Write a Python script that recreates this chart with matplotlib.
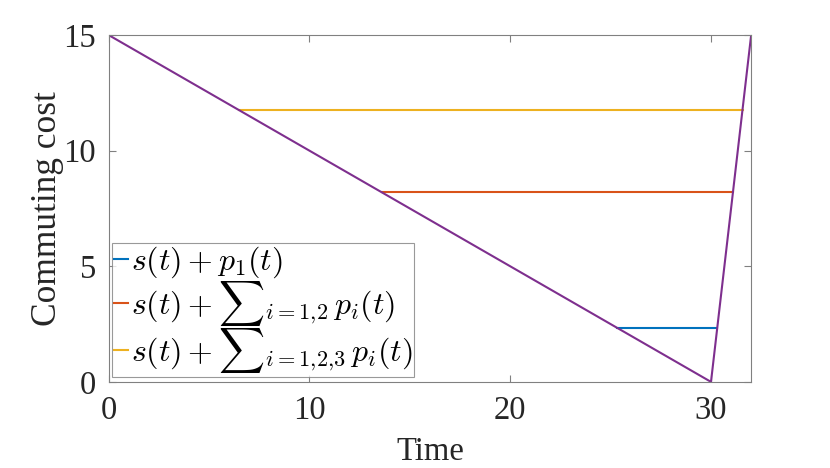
import matplotlib
matplotlib.use("Agg")
import matplotlib.pyplot as plt

# s(t): free-flow commuting cost (piecewise linear)
s_t = [0, 30, 32]
s_cost = [15, 0, 15]

# horizontal cost levels of the three series and their time spans
labels = [r"$s(t)+p_1(t)$",
          r"$s(t)+{\sum}_{i=1{,}2}\,p_i(t)$",
          r"$s(t)+{\sum}_{i=1{,}2{,}3}\,p_i(t)$"]
levels = [2.33, 8.2, 11.75]
t_start = [25.33, 13.6, 6.5]
t_end = [30.31, 31.09, 31.57]
colors = ["#0072BD", "#D95319", "#EDB120"]
s_color = "#7E2F8E"

xticks = [0, 10, 20, 30]
yticks = [0, 5, 10, 15]

plt.rcParams['mathtext.fontset'] = 'cm'
plt.rcParams['font.family'] = ['Liberation Serif', 'DejaVu Serif']

fig = plt.figure(figsize=(8.3, 4.68), dpi=100)
ax = fig.add_axes([0.131, 0.184, 0.774, 0.741])

for lab, lv, a, b, c in zip(labels, levels, t_start, t_end, colors):
    ax.plot([a, b], [lv, lv], color=c, lw=1.5, label=lab)
ax.plot(s_t, s_cost, color=s_color, lw=1.5)

ax.set_xlim(0, 32)
ax.set_ylim(0, 15)
ax.set_xticks(xticks)
ax.set_yticks(yticks)
ax.tick_params(direction='in', top=True, right=True, length=5, width=0.8,
               color='#808080', labelsize=23.5, labelcolor='#262626')
ax.tick_params(axis='x', pad=10)
ax.tick_params(axis='y', pad=9)
for sp in ax.spines.values():
    sp.set_color('#808080')
    sp.set_linewidth(0.8)
ax.set_xlabel("Time", fontsize=23.5, color='#262626', labelpad=7.5)
ax.set_ylabel("Commuting cost", fontsize=25.5, color='#262626', labelpad=0)

leg = ax.legend(loc='lower left', bbox_to_anchor=(0.005, 0.015), fontsize=23,
                frameon=True, fancybox=False, edgecolor='#808080',
                handlelength=0.45, handletextpad=0.1, borderpad=0.05,
                labelspacing=-0.05, borderaxespad=0)
leg.get_frame().set_linewidth(0.8)

fig.savefig("out.png", dpi=100)
